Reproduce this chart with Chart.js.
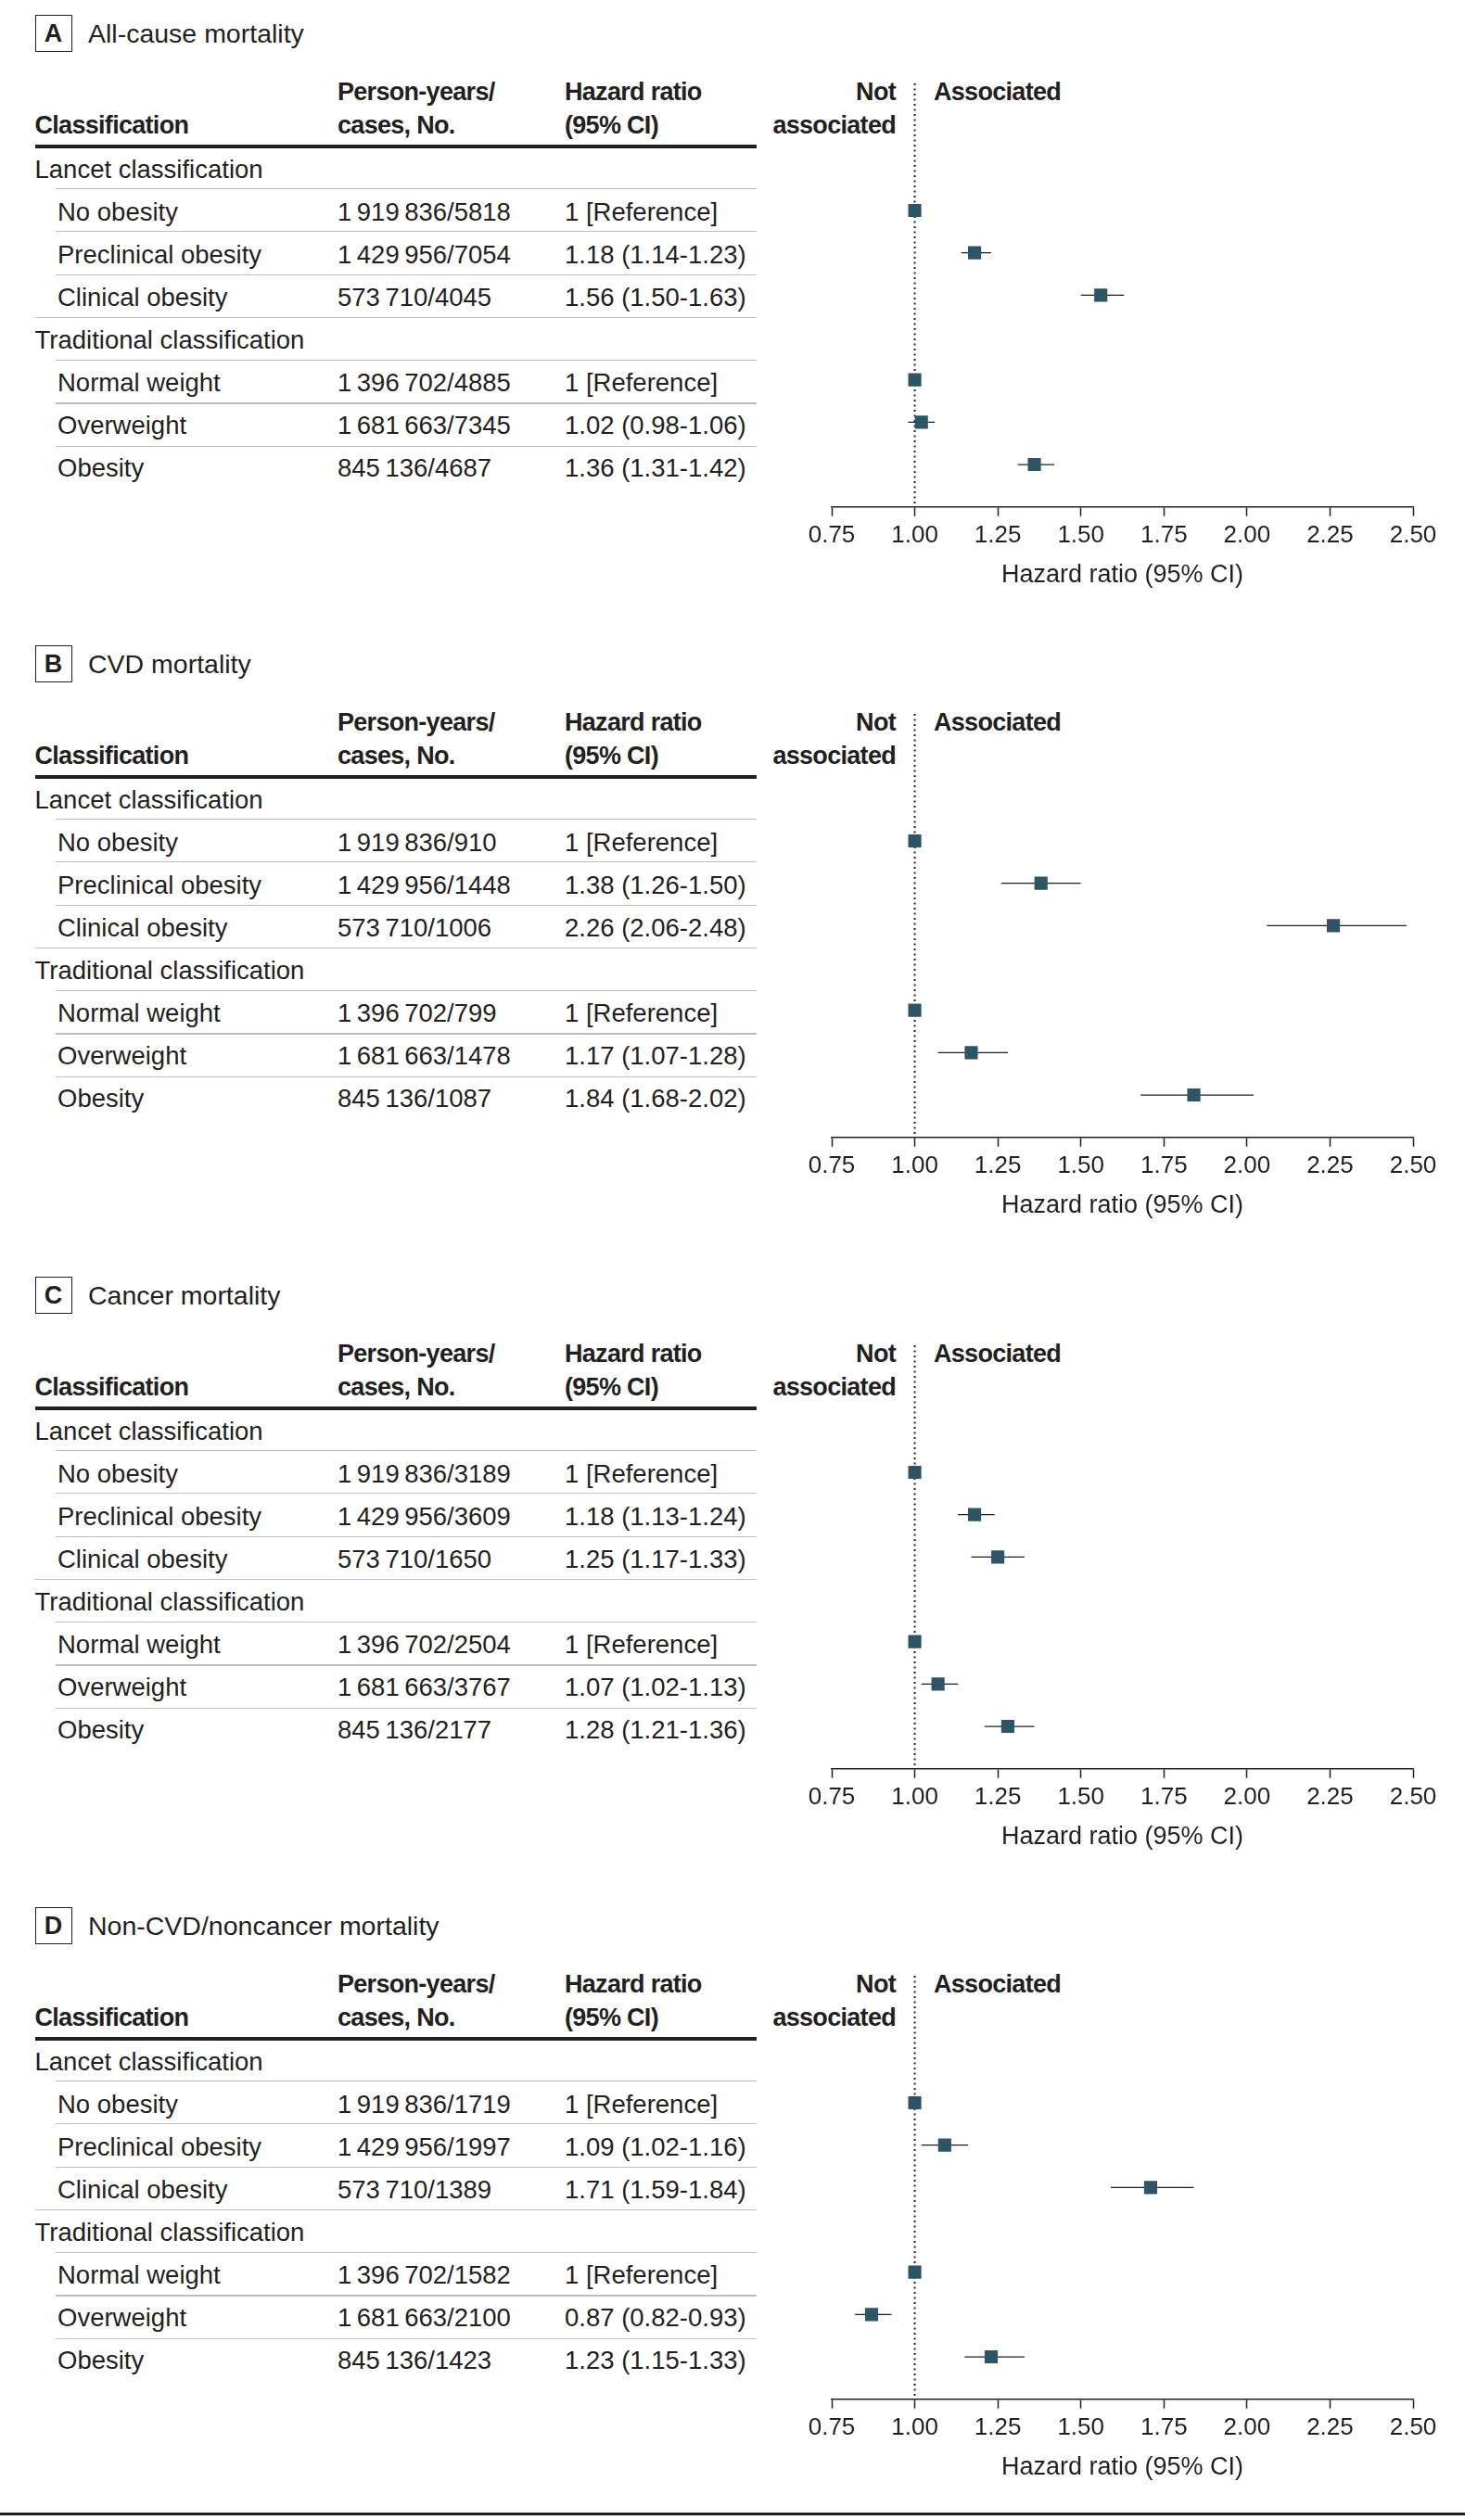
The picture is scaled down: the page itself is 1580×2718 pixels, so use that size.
<!DOCTYPE html>
<html>
<head>
<meta charset="utf-8">
<script src="https://cdn.jsdelivr.net/npm/chart.js@4.4.1/dist/chart.umd.min.js"></script>
<style>
  body { margin: 0; background: #fff; width: 1580px; height: 2718px; position: relative; overflow: hidden;
         font-family: 'Liberation Sans', Arial, sans-serif; color: #231f20; }
  .t { position: absolute; white-space: nowrap; line-height: 1; }
  .b { font-weight: bold; letter-spacing: -0.7px; }
  .rule { position: absolute; }
  .box { position: absolute; border: 1.3px solid #231f20; box-sizing: border-box; }
  .plot { position: absolute; }
</style>
</head>
<body>
<script>
// panels
const panelLetters = ['A', 'B', 'C', 'D'];
const panelTitles = ['All-cause mortality', 'CVD mortality', 'Cancer mortality', 'Non-CVD/noncancer mortality'];
const groups = ['Lancet classification', 'Traditional classification'];
const categories = ['No obesity', 'Preclinical obesity', 'Clinical obesity', 'Normal weight', 'Overweight', 'Obesity'];
const personYears = [1919836, 1429956, 573710, 1396702, 1681663, 845136];

// cases per panel
const casesA = [5818, 7054, 4045, 4885, 7345, 4687];
const casesB = [910, 1448, 1006, 799, 1478, 1087];
const casesC = [3189, 3609, 1650, 2504, 3767, 2177];
const casesD = [1719, 1997, 1389, 1582, 2100, 1423];

// hazard ratios and 95% CI (null = reference)
const hrA = [1, 1.18, 1.56, 1, 1.02, 1.36];
const loA = [null, 1.14, 1.50, null, 0.98, 1.31];
const hiA = [null, 1.23, 1.63, null, 1.06, 1.42];

const hrB = [1, 1.38, 2.26, 1, 1.17, 1.84];
const loB = [null, 1.26, 2.06, null, 1.07, 1.68];
const hiB = [null, 1.50, 2.48, null, 1.28, 2.02];

const hrC = [1, 1.18, 1.25, 1, 1.07, 1.28];
const loC = [null, 1.13, 1.17, null, 1.02, 1.21];
const hiC = [null, 1.24, 1.33, null, 1.13, 1.36];

const hrD = [1, 1.09, 1.71, 1, 0.87, 1.23];
const loD = [null, 1.02, 1.59, null, 0.82, 1.15];
const hiD = [null, 1.16, 1.84, null, 0.93, 1.33];

const xTicks = [0.75, 1.00, 1.25, 1.50, 1.75, 2.00, 2.25, 2.50];

// row slots in plot: 0 and 4 are group headings
const rowPos = [1, 2, 3, 5, 6, 7];

const panels = [
  { cases: casesA, hr: hrA, lo: loA, hi: hiA },
  { cases: casesB, hr: hrB, lo: loB, hi: hiB },
  { cases: casesC, hr: hrC, lo: loC, hi: hiC },
  { cases: casesD, hr: hrD, lo: loD, hi: hiD }
];
const panelTop = [0, 680, 1361, 2041];

const INK = '#231f20';
const MARK = '#2e5566';

Chart.defaults.font.family = "'Liberation Sans', Arial, sans-serif";
Chart.defaults.color = INK;

function fmtNum(n) {
    return String(n).replace(/\B(?=(\d{3})+(?!\d))/g, '\u2009');
}

function txt(x, baseline, str, size, cls, align) {
    const d = document.createElement('div');
    d.className = 't' + (cls ? ' ' + cls : '');
    d.style.fontSize = size + 'px';
    d.style.top = (baseline - 0.8465 * size) + 'px';
    if (align === 'right') {
        d.style.right = (1580 - x) + 'px';
    } else {
        d.style.left = x + 'px';
    }
    d.textContent = str;
    document.body.appendChild(d);
    return d;
}

function rule(x1, x2, y, h, color) {
    const d = document.createElement('div');
    d.className = 'rule';
    d.style.left = x1 + 'px';
    d.style.width = (x2 - x1) + 'px';
    d.style.top = y + 'px';
    d.style.height = h + 'px';
    d.style.background = color;
    document.body.appendChild(d);
}

function drawPanel(p) {
    const T = panelTop[p];
    const d = panels[p];
    const fs = 27.5;

    // title
    const box = document.createElement('div');
    box.className = 'box';
    box.style.left = '37.5px'; box.style.top = (T + 16) + 'px';
    box.style.width = '40px'; box.style.height = '39.5px';
    document.body.appendChild(box);
    const letter = txt(37.5, T + 46, panelLetters[p], 27, 'b');
    letter.style.width = '40px'; letter.style.textAlign = 'center'; letter.style.letterSpacing = '0';
    txt(95, T + 46, panelTitles[p], 28.5);

    // header
    txt(37.5, T + 145, 'Classification', 27, 'b');
    txt(364, T + 109, 'Person-years/', 27, 'b');
    txt(364, T + 145, 'cases, No.', 27, 'b');
    txt(609, T + 109, 'Hazard ratio', 27, 'b');
    txt(609, T + 145, '(95% CI)', 27, 'b');
    rule(37.5, 816, T + 155.5, 4, INK);

    // rows
    const rowBase = k => T + 192 + 46 * k;
    const lineY = k => T + 203.5 + 46.3 * k;
    txt(37.5, rowBase(0), groups[0], fs);
    txt(37.5, rowBase(4), groups[1], fs);
    for (let i = 0; i < categories.length; i++) {
        const k = rowPos[i];
        txt(62, rowBase(k), categories[i], fs);
        txt(364, rowBase(k), fmtNum(personYears[i]) + '/' + d.cases[i], fs);
        const hrText = d.lo[i] === null ? '1 [Reference]'
            : d.hr[i].toFixed(2) + ' (' + d.lo[i].toFixed(2) + '-' + d.hi[i].toFixed(2) + ')';
        txt(609, rowBase(k), hrText, fs);
    }
    for (let k = 0; k < 7; k++) {
        rule(k === 3 ? 37.5 : 59.5, 816, lineY(k) - 0.6, 1.3, '#bdbdbd');
    }

    // plot labels
    txt(966, T + 109, 'Not', 27, 'b', 'right');
    txt(966, T + 145, 'associated', 27, 'b', 'right');
    txt(1007, T + 109, 'Associated', 27, 'b');

    // forest plot
    const wrap = document.createElement('div');
    wrap.className = 'plot';
    wrap.style.left = '850px'; wrap.style.top = (T + 80) + 'px';
    wrap.style.width = '730px'; wrap.style.height = '580px';
    const canvas = document.createElement('canvas');
    wrap.appendChild(canvas);
    document.body.appendChild(wrap);

    const datasets = [{
        type: 'scatter',
        data: d.hr.map((v, i) => ({ x: v, y: rowPos[i] })),
        pointStyle: 'rect',
        pointRadius: 10,
        pointHoverRadius: 10,
        backgroundColor: MARK,
        borderWidth: 0
    }];
    d.hr.forEach((v, i) => {
        if (d.lo[i] === null) return;
        datasets.push({
            type: 'line',
            data: [{ x: d.lo[i], y: rowPos[i] }, { x: d.hi[i], y: rowPos[i] }],
            showLine: true,
            borderColor: INK,
            borderWidth: 1.3,
            pointRadius: 0
        });
    });
    datasets.push({
        type: 'line',
        data: [{ x: 1, y: -2 }, { x: 1, y: 8 }],
        showLine: true,
        borderColor: INK,
        borderWidth: 2,
        borderDash: [2, 3.5],
        pointRadius: 0
    });

    new Chart(canvas, {
        type: 'scatter',
        data: { datasets: datasets },
        options: {
            responsive: true,
            maintainAspectRatio: false,
            animation: false,
            layout: { padding: { left: 47, right: 56, top: 7, bottom: 23.7 } },
            plugins: { legend: { display: false }, tooltip: { enabled: false } },
            scales: {
                x: {
                    type: 'linear',
                    min: 0.75,
                    max: 2.5,
                    afterBuildTicks: axis => { axis.ticks = xTicks.map(v => ({ value: v })); },
                    ticks: {
                        callback: v => v.toFixed(2),
                        font: { size: 26 },
                        color: INK,
                        padding: 6,
                        autoSkip: false,
                        maxRotation: 0
                    },
                    grid: { drawOnChartArea: false, drawTicks: true, tickLength: 10, tickWidth: 1.5, tickColor: INK },
                    border: { display: true, color: INK, width: 1.5 },
                    title: {
                        display: true,
                        text: 'Hazard ratio (95% CI)',
                        font: { size: 27 },
                        color: INK,
                        padding: { top: 4, bottom: 0 }
                    }
                },
                y: { type: 'linear', display: false, reverse: true, min: -2, max: 8 }
            }
        }
    });
}

for (let p = 0; p < 4; p++) drawPanel(p);
rule(0, 1580, 2710, 3, INK);
</script>
</body>
</html>
